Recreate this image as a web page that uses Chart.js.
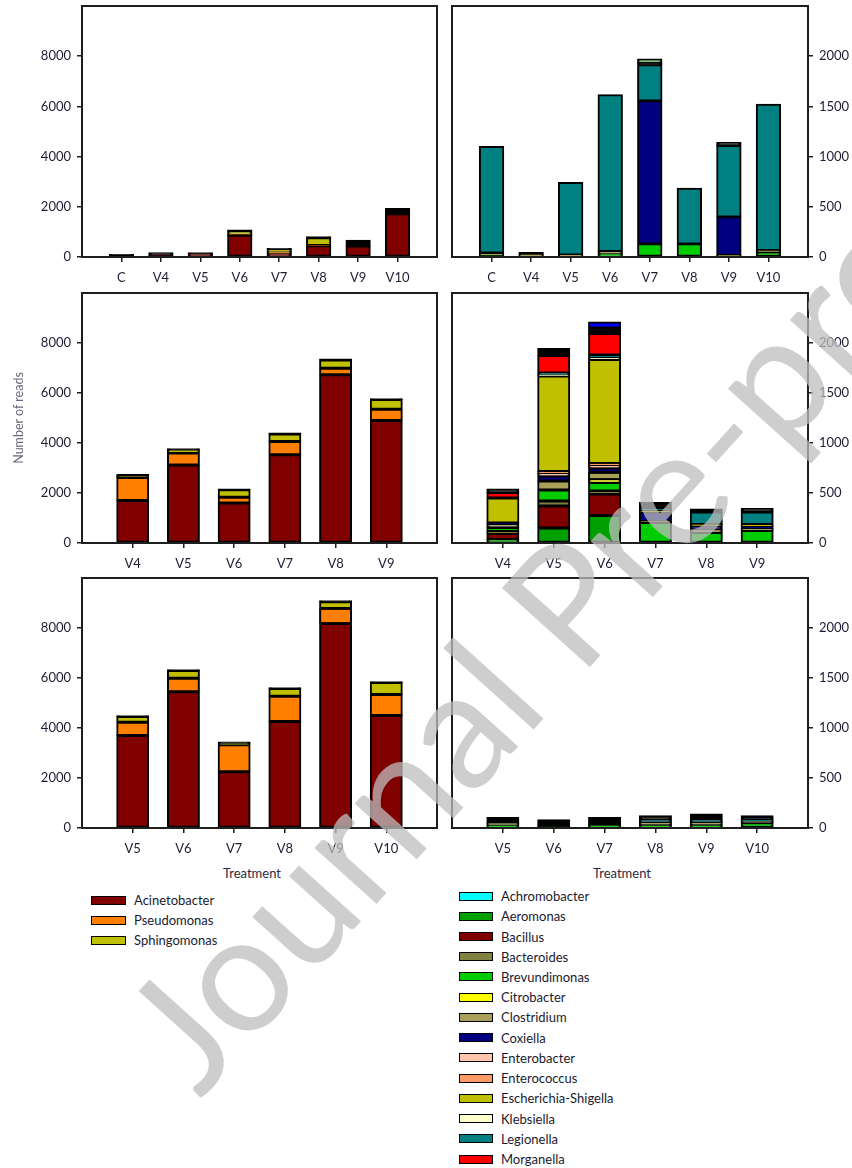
<!DOCTYPE html>
<html>
<head>
<meta charset="utf-8">
<title>Number of reads per treatment</title>
<script src="https://cdn.jsdelivr.net/npm/chart.js@4.4.1/dist/chart.umd.min.js"></script>
<style>
    body { margin: 0; width: 852px; height: 1168px; overflow: hidden; background: #fff; position: relative; font-family: Lato, 'Open Sans', sans-serif; }
    canvas.panel { position: absolute; }
    .axis-title { position: absolute; font-size: 13px; color: #2a2a40; white-space: nowrap; }
    .legend-row { position: absolute; display: flex; align-items: center; height: 20px; font-size: 13px; color: #1a1a30; white-space: nowrap; }
    .swatch { box-sizing: border-box; height: 9px; border: 1.5px solid #000; }
    svg.mark { position: absolute; left: 0; top: 0; pointer-events: none; }
</style>
</head>
<body>
<canvas id="leftTop" class="panel" width="445" height="290" style="left:0;top:0"></canvas>
<canvas id="rightTop" class="panel" width="407" height="290" style="left:445px;top:0"></canvas>
<canvas id="leftMid" class="panel" width="445" height="290" style="left:0;top:287px"></canvas>
<canvas id="rightMid" class="panel" width="407" height="290" style="left:445px;top:287px"></canvas>
<canvas id="leftBottom" class="panel" width="445" height="290" style="left:0;top:572px"></canvas>
<canvas id="rightBottom" class="panel" width="407" height="290" style="left:445px;top:572px"></canvas>

<div class="axis-title" style="left:18px;top:418px;font-size:12.5px;color:#6a6a7a;transform:translate(-50%,-50%) rotate(-90deg)">Number of reads</div>
<div class="axis-title" style="left:252px;top:873px;transform:translate(-50%,-50%)">Treatment</div>
<div class="axis-title" style="left:622px;top:873px;transform:translate(-50%,-50%)">Treatment</div>

<div id="legendLeft"></div>
<div id="legendRight"></div>

<svg class="mark" width="852" height="1168">
    <text x="200" y="1100" transform="rotate(-48 200 1100)" font-family="Lato, 'Open Sans', sans-serif" font-size="165" fill="rgba(190,190,190,0.75)">Journal Pre-proof</text>
</svg>

<script>
// treatments on each row of panels
const treatmentsTop = ['C', 'V4', 'V5', 'V6', 'V7', 'V8', 'V9', 'V10'];
const treatmentsMid = ['V4', 'V5', 'V6', 'V7', 'V8', 'V9'];
const treatmentsBottom = ['V5', 'V6', 'V7', 'V8', 'V9', 'V10'];

const yTicksLeft = [0, 2000, 4000, 6000, 8000];
const yTicksRight = [0, 500, 1000, 1500, 2000];

// genera, in stacking order (bottom to top)
const leftGenera = ['Acinetobacter', 'Pseudomonas', 'Sphingomonas'];
const leftColors = ['#800000', '#ff8000', '#c0c000'];

const rightGenera = ['Achromobacter', 'Aeromonas', 'Bacillus', 'Bacteroides', 'Brevundimonas',
    'Citrobacter', 'Clostridium', 'Coxiella', 'Enterobacter', 'Enterococcus',
    'Escherichia-Shigella', 'Klebsiella', 'Legionella', 'Morganella'];
const rightColors = ['#00ffff', '#00a000', '#800000', '#808040', '#00cc00',
    '#ffff00', '#a9a059', '#000080', '#ffc4aa', '#ff9966',
    '#c0c000', '#ffffcc', '#008080', '#ff0000'];

// rest of the reads, stacked above the listed genera
const extraGroups = ['Other', 'Other genus 1', 'Other genus 2'];
const extraColors = ['#000000', '#0000ff', '#6ccc6c'];

// reads, left column
const readsLeftTop = {
    Acinetobacter: [0, 50, 130, 860, 130, 440, 430, 1720],
    Pseudomonas:   [0, 0, 0, 20, 70, 20, 0, 0],
    Sphingomonas:  [0, 0, 0, 150, 90, 300, 0, 0],
    Other:         [100, 120, 40, 40, 40, 40, 230, 210]
};
const readsLeftMid = {
    Acinetobacter: [1700, 3120, 1600, 3530, 6730, 4900],
    Pseudomonas:   [920, 480, 230, 530, 260, 450],
    Sphingomonas:  [30, 130, 300, 300, 330, 390],
    Other:         [90, 40, 30, 40, 40, 30]
};
const readsLeftBottom = {
    Acinetobacter: [3700, 5450, 2250, 4260, 8180, 4500],
    Pseudomonas:   [530, 540, 1080, 1010, 600, 840],
    Sphingomonas:  [230, 310, 40, 310, 270, 480],
    Other:         [30, 30, 70, 30, 40, 30]
};

// reads, right column
const readsRightTop = {
    Brevundimonas: [10, 0, 0, 30, 130, 130, 0, 50],
    Clostridium:   [30, 25, 20, 25, 0, 0, 15, 15],
    Coxiella:      [0, 0, 0, 0, 1425, 0, 385, 0],
    Legionella:    [1060, 0, 720, 1560, 360, 553, 710, 1455],
    Other:         [0, 18, 0, 0, 15, 0, 30, 0],
    'Other genus 2': [0, 0, 0, 0, 40, 0, 0, 0]
};
const readsRightMid = {
    Aeromonas:     [35, 150, 275, 0, 0, 0],
    Bacillus:      [60, 220, 215, 0, 0, 0],
    Bacteroides:   [20, 50, 30, 0, 0, 0],
    Brevundimonas: [40, 110, 85, 205, 105, 125],
    Citrobacter:   [0, 0, 30, 0, 0, 0],
    Clostridium:   [35, 90, 70, 10, 30, 20],
    Coxiella:      [10, 50, 45, 90, 35, 20],
    Enterobacter:  [0, 25, 25, 0, 0, 0],
    Enterococcus:  [0, 20, 20, 0, 0, 0],
    'Escherichia-Shigella': [250, 955, 1040, 15, 15, 20],
    Klebsiella:    [0, 10, 15, 0, 0, 0],
    Legionella:    [0, 20, 30, 30, 125, 125],
    Morganella:    [55, 175, 215, 0, 0, 0],
    Other:         [35, 70, 55, 55, 30, 35],
    'Other genus 1': [0, 0, 60, 0, 0, 0]
};
const readsRightBottom = {
    Brevundimonas: [28, 8, 28, 28, 28, 52],
    Clostridium:   [20, 0, 0, 30, 30, 12],
    Legionella:    [0, 0, 0, 22, 22, 20],
    Other:         [57, 74, 77, 42, 58, 38]
};

const TEXT = '#1c1c34';
const AXIS = '#1e1e1e';
const FONT = { family: "Lato, 'Open Sans', sans-serif", size: 13 };

// draws the box round the plot area
const framePlugin = {
    id: 'frame',
    afterDraw(chart) {
        const { ctx, chartArea: a } = chart;
        ctx.save();
        ctx.strokeStyle = AXIS;
        ctx.lineWidth = 2;
        ctx.strokeRect(a.left, a.top, a.right - a.left, a.bottom - a.top);
        ctx.restore();
    }
};

function buildDatasets(reads, names, colors) {
    return names.map((name, i) => ({
        label: name,
        // empty slot at both ends of the axis
        data: [null, ...(reads[name] || []).map(v => v || null), null],
        backgroundColor: colors[i],
        borderColor: '#000',
        borderWidth: 2,
        borderSkipped: false,
        // overlap neighbouring segments so no white seam shows between them
        inflateAmount: 0.6
    }));
}

function drawPanel(id, side, cats, datasets, yMax, yTicks, barPct, xAxisH) {
    const labels = ['', ...cats, ''];
    const isLeft = side === 'left';
    return new Chart(document.getElementById(id), {
        type: 'bar',
        data: { labels, datasets },
        options: {
            responsive: false,
            animation: false,
            layout: { padding: isLeft ? { left: 0, right: 8, top: 6, bottom: 0 } : { left: 7, right: 0, top: 6, bottom: 0 } },
            plugins: { legend: { display: false }, tooltip: { enabled: false } },
            datasets: { bar: { barPercentage: barPct, categoryPercentage: 1 } },
            scales: {
                x: {
                    stacked: true,
                    offset: false,
                    grid: {
                        offset: false,
                        drawOnChartArea: false,
                        tickLength: 5,
                        lineWidth: 1.5,
                        color: c => (c.index === 0 || c.index === labels.length - 1) ? 'rgba(0,0,0,0)' : AXIS
                    },
                    border: { display: false },
                    ticks: { autoSkip: false, maxRotation: 0, padding: 8, color: TEXT, font: FONT },
                    afterFit: s => { s.height = xAxisH; s.paddingLeft = 0; s.paddingRight = 0; }
                },
                y: {
                    position: side,
                    stacked: true,
                    min: 0,
                    max: yMax,
                    afterBuildTicks: s => { s.ticks = yTicks.map(v => ({ value: v })); },
                    grid: { drawOnChartArea: false, tickLength: 5, lineWidth: 1.5, color: AXIS },
                    border: { display: false },
                    ticks: { padding: 6, color: TEXT, font: FONT, callback: v => String(v) },
                    afterFit: s => { s.width = isLeft ? 82 : 44; s.paddingTop = 0; s.paddingBottom = 0; }
                }
            }
        },
        plugins: [framePlugin]
    });
}

const leftNames = [...leftGenera, 'Other'];
const leftFill = [...leftColors, '#000000'];
const rightNames = [...rightGenera, ...extraGroups];
const rightFill = [...rightColors, ...extraColors];

drawPanel('leftTop', 'left', treatmentsTop, buildDatasets(readsLeftTop, leftNames, leftFill), 10000, yTicksLeft, 0.61, 33);
drawPanel('leftMid', 'left', treatmentsMid, buildDatasets(readsLeftMid, leftNames, leftFill), 10000, yTicksLeft, 0.625, 34);
drawPanel('leftBottom', 'left', treatmentsBottom, buildDatasets(readsLeftBottom, leftNames, leftFill), 10000, yTicksLeft, 0.625, 34);
drawPanel('rightTop', 'right', treatmentsTop, buildDatasets(readsRightTop, rightNames, rightFill), 2500, yTicksRight, 0.61, 33);
drawPanel('rightMid', 'right', treatmentsMid, buildDatasets(readsRightMid, rightNames, rightFill), 2500, yTicksRight, 0.625, 34);
drawPanel('rightBottom', 'right', treatmentsBottom, buildDatasets(readsRightBottom, rightNames, rightFill), 2500, yTicksRight, 0.625, 34);

// legends under each column
function buildLegend(containerId, names, colors, swatchX, swatchW, textX, y0, step) {
    const el = document.getElementById(containerId);
    el.innerHTML = names.map((name, i) => `
        <div class="legend-row" style="left:${swatchX}px;top:${(y0 + i * step - 10).toFixed(1)}px">
            <div class="swatch" style="width:${swatchW}px;background:${colors[i]}"></div>
            <span style="margin-left:${textX - swatchX - swatchW}px">${name}</span>
        </div>`).join('');
}

buildLegend('legendLeft', leftGenera, leftColors, 91, 35, 134, 900, 20);
buildLegend('legendRight', rightGenera, rightColors, 459, 34, 501, 896, 20.23);
</script>
</body>
</html>
